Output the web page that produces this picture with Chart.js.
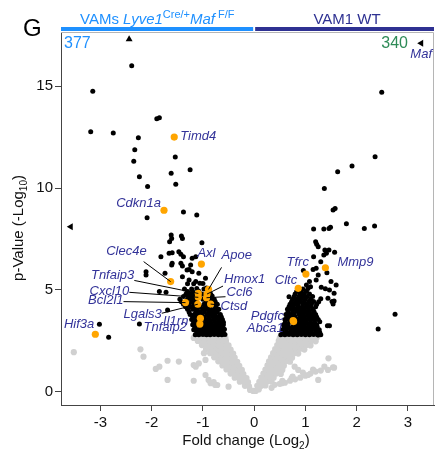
<!DOCTYPE html>
<html>
<head>
<meta charset="utf-8">
<script src="https://cdn.jsdelivr.net/npm/chart.js@4.4.1/dist/chart.umd.min.js"></script>
<style>
  body { margin: 0; background: #fff; }
  canvas { display: block; }
</style>
</head>
<body>
<canvas id="volcan" width="438" height="452"></canvas>
<script>
// datos
const xTicks = [-3, -2, -1, 0, 1, 2, 3];
const yTicks = [0, 5, 10, 15];
const leftCount = 377;
const rightCount = 340;

// no significativos (gris)
const grayPoints = [
  [-0.08, 0.1], [-0.02, 0.05], [0.03, 0.05], [0.09, 0.12],
  [-0.18, 0.3], [-0.1, 0.28], [0.06, 0.3], [0.14, 0.3], [0.22, 0.32],
  [-0.28, 0.5], [-0.2, 0.5], [-0.12, 0.48], [0.1, 0.5], [0.18, 0.5], [0.26, 0.52], [0.34, 0.5],
  [-0.38, 0.7], [-0.3, 0.7], [-0.22, 0.72], [-0.15, 0.68], [0.14, 0.7], [0.22, 0.7], [0.3, 0.72], [0.38, 0.7],
  [-0.46, 0.9], [-0.38, 0.9], [-0.3, 0.92], [-0.21, 0.88], [0.18, 0.9], [0.26, 0.9], [0.34, 0.92], [0.43, 0.9], [0.52, 0.88],
  [-0.54, 1.1], [-0.46, 1.1], [-0.38, 1.12], [-0.3, 1.1], [-0.24, 1.08], [0.22, 1.1], [0.3, 1.1], [0.38, 1.12], [0.46, 1.1], [0.55, 1.08],
  [-0.62, 1.3], [-0.54, 1.3], [-0.46, 1.32], [-0.38, 1.3], [-0.29, 1.28], [0.26, 1.3], [0.34, 1.3], [0.42, 1.32], [0.5, 1.3], [0.58, 1.28],
  [-0.7, 1.5], [-0.62, 1.5], [-0.54, 1.52], [-0.46, 1.5], [-0.38, 1.5], [-0.33, 1.48], [0.29, 1.5], [0.37, 1.5], [0.45, 1.52], [0.53, 1.5], [0.62, 1.5], [0.7, 1.48],
  [-0.78, 1.7], [-0.7, 1.7], [-0.62, 1.72], [-0.54, 1.7], [-0.46, 1.7], [-0.38, 1.68], [0.33, 1.7], [0.41, 1.7], [0.49, 1.72], [0.57, 1.7], [0.65, 1.7], [0.74, 1.68],
  [-0.86, 1.9], [-0.78, 1.9], [-0.7, 1.92], [-0.62, 1.9], [-0.54, 1.9], [-0.45, 1.9], [-0.41, 1.88], [0.37, 1.9], [0.45, 1.9], [0.53, 1.92], [0.61, 1.9], [0.69, 1.9], [0.78, 1.9], [0.86, 1.88],
  [-0.94, 2.1], [-0.86, 2.1], [-0.78, 2.12], [-0.7, 2.1], [-0.62, 2.1], [-0.54, 2.1], [-0.46, 2.08], [0.41, 2.1], [0.49, 2.1], [0.57, 2.12], [0.65, 2.1], [0.73, 2.1], [0.82, 2.1], [0.9, 2.12], [0.98, 2.08],
  [-1.02, 2.3], [-0.94, 2.3], [-0.86, 2.32], [-0.78, 2.3], [-0.7, 2.3], [-0.62, 2.3], [-0.54, 2.32], [-0.5, 2.28], [0.45, 2.3], [0.53, 2.3], [0.61, 2.32], [0.69, 2.3], [0.77, 2.3], [0.85, 2.32], [0.93, 2.3], [1.02, 2.3], [1.1, 2.28],
  [-1.1, 2.5], [-1.02, 2.5], [-0.94, 2.52], [-0.86, 2.5], [-0.78, 2.5], [-0.7, 2.5], [-0.62, 2.52], [-0.55, 2.5], [0.48, 2.5], [0.56, 2.5], [0.64, 2.52], [0.72, 2.5], [0.8, 2.5], [0.88, 2.52], [0.96, 2.5], [1.04, 2.5], [1.12, 2.52], [1.2, 2.48],
  [-1.18, 2.65], [-1.1, 2.66], [-1.02, 2.64], [-0.94, 2.66], [-0.86, 2.65], [-0.78, 2.64], [-0.7, 2.66], [-0.62, 2.65], [-0.56, 2.64], [0.5, 2.65], [0.58, 2.66], [0.66, 2.64], [0.74, 2.66], [0.82, 2.65], [0.9, 2.64], [0.98, 2.66], [1.06, 2.65], [1.14, 2.64], [1.22, 2.66],
  [-0.25, 0.6], [-0.34, 0.8], [-0.42, 1.0], [-0.5, 1.2], [-0.58, 1.4], [-0.66, 1.6], [-0.74, 1.8], [-0.82, 2.0], [-0.9, 2.2], [-0.98, 2.4],
  [0.2, 0.6], [0.3, 0.8], [0.4, 1.0], [0.46, 1.2], [0.5, 1.4], [0.55, 1.6], [0.6, 1.8], [0.7, 2.0], [0.8, 2.2], [0.9, 2.4], [1.0, 2.4],
  [0.34, 0.2], [0.4, 0.35], [0.54, 0.43], [0.5, 0.4], [0.6, 0.45], [0.7, 0.55], [0.73, 0.67], [0.8, 0.62], [0.86, 1.08], [0.9, 0.7], [0.79, 1.24],
  [1.0, 0.8], [1.05, 0.83], [1.1, 0.9], [1.2, 1.0], [1.25, 0.59], [1.3, 1.05], [0.55, 0.55], [0.75, 0.75], [0.95, 0.95], [1.15, 1.1],
  [1.37, 1.24], [1.44, 1.08], [1.54, 1.21], [1.56, 1.19], [1.45, 1.65], [1.18, 2.63],
  [-3.52, 1.95], [-2.22, 2.09], [-2.16, 1.73], [-1.69, 1.53], [-1.92, 1.13], [-1.85, 1.24], [-1.69, 0.59], [-1.47, 1.49],
  [-1.14, 1.24], [-1.18, 0.55], [-0.95, 0.83], [-0.89, 0.59], [-0.85, 0.43], [-0.79, 0.48], [-0.72, 0.34], [-0.5, 0.26],
  [-1.08, 1.4], [-1.18, 1.32], [-0.98, 1.9], [-0.95, 1.57], [-0.76, 0.34]
];

// significativos (negro)
const blackPoints = [
  [-2.39, 16.0], [-3.15, 14.75], [-1.9, 13.4], [-1.85, 13.45], [-3.19, 12.76], [-2.75, 12.7], [-2.26, 12.47],
  [-2.33, 11.88], [-1.54, 11.52], [-2.35, 11.31], [-1.25, 10.9], [-1.62, 10.72], [-2.24, 10.55], [-1.53, 10.18],
  [-2.08, 10.08], [-1.38, 8.82], [-1.12, 8.68], [-2.09, 8.54],
  [-1.62, 7.7], [-1.61, 7.53], [-1.42, 7.65], [-1.02, 7.32], [-1.65, 7.37], [-1.4, 7.53],
  [-1.66, 6.8], [-1.6, 6.83], [-1.47, 6.88], [-1.43, 6.75], [-1.38, 6.63], [-1.21, 6.55], [-1.14, 6.63], [-1.82, 6.63],
  [-1.6, 6.31], [-1.61, 6.23], [-1.43, 6.31], [-1.4, 6.18], [-1.24, 6.23], [-1.27, 6.01], [-1.21, 5.9], [-1.31, 5.98], [-1.08, 5.82],
  [-1.74, 5.82], [-2.11, 5.9], [-2.11, 5.74], [-1.4, 5.65], [-1.27, 5.49], [-1.14, 5.41], [-0.95, 5.57], [-1.06, 5.33],
  [-1.85, 4.92], [-1.72, 4.89], [-2.24, 3.33], [-3.02, 3.32], [-2.84, 2.68], [-1.69, 4.02],
  [-1.15, 2.8], [-1.08, 2.8], [-1.0, 2.82], [-0.93, 2.8], [-0.86, 2.8], [-0.78, 2.82], [-0.7, 2.8], [-0.63, 2.8], [-0.57, 2.82],
  [-1.12, 2.92], [-1.04, 2.92], [-0.96, 2.94], [-0.89, 2.92], [-0.82, 2.92], [-0.74, 2.94], [-0.66, 2.92], [-0.6, 2.92],
  [-1.18, 3.05], [-1.1, 3.05], [-1.02, 3.07], [-0.95, 3.05], [-0.88, 3.05], [-0.8, 3.07], [-0.72, 3.05], [-0.64, 3.05], [-0.58, 3.07],
  [-1.16, 3.18], [-1.06, 3.18], [-0.99, 3.2], [-0.92, 3.18], [-0.85, 3.18], [-0.77, 3.2], [-0.69, 3.18], [-0.62, 3.18],
  [-1.2, 3.3], [-1.13, 3.3], [-0.98, 3.32], [-0.9, 3.3], [-0.83, 3.3], [-0.75, 3.32], [-0.67, 3.3], [-0.6, 3.3],
  [-1.18, 3.42], [-1.11, 3.42], [-1.03, 3.44], [-0.93, 3.42], [-0.85, 3.42], [-0.77, 3.44], [-0.68, 3.42], [-0.6, 3.42],
  [-1.22, 3.55], [-1.15, 3.55], [-1.08, 3.57], [-0.95, 3.55], [-0.87, 3.55], [-0.79, 3.57], [-0.7, 3.55], [-0.62, 3.55],
  [-1.2, 3.68], [-1.13, 3.68], [-1.06, 3.7], [-0.98, 3.68], [-0.89, 3.68], [-0.81, 3.7], [-0.72, 3.68], [-0.64, 3.68],
  [-1.25, 3.8], [-1.17, 3.8], [-1.1, 3.82], [-1.02, 3.8], [-0.92, 3.8], [-0.84, 3.82], [-0.76, 3.8], [-0.66, 3.8],
  [-1.27, 3.92], [-1.14, 3.92], [-1.06, 3.94], [-0.97, 3.92], [-0.88, 3.92], [-0.8, 3.94], [-0.72, 3.92],
  [-1.3, 4.05], [-1.2, 4.05], [-1.12, 4.07], [-1.0, 4.05], [-0.93, 4.05], [-0.85, 4.07], [-0.77, 4.05], [-0.69, 4.05],
  [-1.34, 4.18], [-1.24, 4.18], [-1.15, 4.2], [-1.05, 4.18], [-0.96, 4.18], [-0.88, 4.2], [-0.75, 4.18],
  [-1.38, 4.3], [-1.27, 4.3], [-1.18, 4.32], [-0.98, 4.3], [-0.9, 4.3], [-0.8, 4.32], [-0.72, 4.3],
  [-1.42, 4.42], [-1.32, 4.42], [-1.22, 4.44], [-1.13, 4.42], [-0.94, 4.42], [-0.84, 4.44], [-0.76, 4.42],
  [-1.45, 4.55], [-1.3, 4.55], [-1.22, 4.57], [-1.14, 4.55], [-1.0, 4.55], [-0.87, 4.57], [-0.78, 4.55],
  [-1.38, 4.68], [-1.28, 4.68], [-1.2, 4.7], [-1.06, 4.68], [-0.95, 4.68], [-0.82, 4.7],
  [-1.33, 4.8], [-1.25, 4.8], [-1.17, 4.82], [-1.02, 4.8], [-0.85, 4.8],
  [-1.3, 4.92], [-1.2, 4.92], [-1.08, 4.94], [-0.9, 4.92],
  [-1.36, 5.05], [-1.22, 5.05], [-1.12, 5.07], [-0.98, 5.05], [-0.93, 5.1],
  [-1.3, 5.3], [-1.18, 5.3], [-1.0, 5.32],
  [2.49, 14.69], [2.36, 11.53], [1.91, 11.08], [1.63, 10.8], [1.37, 9.97], [1.54, 8.92], [1.58, 9.0],
  [1.8, 8.25], [2.35, 8.14], [2.15, 8.02], [1.49, 8.07], [1.36, 7.99], [1.16, 7.99], [1.46, 8.02],
  [1.2, 7.37], [1.22, 7.24], [1.25, 7.12], [1.38, 6.96], [1.46, 6.96], [1.41, 6.8], [1.57, 6.85], [1.36, 6.72],
  [1.16, 6.63], [1.3, 6.39], [1.21, 6.06], [1.15, 6.01], [0.96, 5.95],
  [1.42, 5.85], [1.25, 5.74], [1.21, 5.49], [1.08, 5.41], [1.02, 5.25], [1.1, 5.16], [1.31, 5.13], [1.39, 5.06],
  [1.47, 5.0], [1.6, 5.25], [1.5, 5.41],
  [0.68, 4.67], [1.56, 4.84], [1.44, 4.59], [1.56, 4.46], [1.54, 4.31], [1.47, 3.24], [1.25, 2.79], [1.12, 2.88],
  [2.75, 3.81], [2.42, 3.09], [1.43, 3.24], [1.52, 4.43],
  [0.52, 2.8], [0.6, 2.8], [0.68, 2.82], [0.76, 2.8], [0.84, 2.8], [0.92, 2.82], [1.0, 2.8], [1.08, 2.8], [1.16, 2.82], [1.24, 2.8], [1.3, 2.8],
  [0.56, 2.92], [0.64, 2.92], [0.72, 2.94], [0.8, 2.92], [0.88, 2.92], [0.96, 2.94], [1.04, 2.92], [1.12, 2.92], [1.2, 2.94], [1.28, 2.92],
  [0.55, 3.05], [0.63, 3.05], [0.71, 3.07], [0.79, 3.05], [0.87, 3.05], [0.95, 3.07], [1.03, 3.05], [1.11, 3.05], [1.19, 3.07], [1.27, 3.05],
  [0.59, 3.18], [0.67, 3.18], [0.75, 3.2], [0.83, 3.18], [0.91, 3.18], [0.99, 3.2], [1.07, 3.18], [1.15, 3.18], [1.23, 3.2],
  [0.57, 3.3], [0.65, 3.3], [0.82, 3.32], [0.9, 3.3], [0.98, 3.3], [1.06, 3.32], [1.14, 3.3], [1.22, 3.3],
  [0.61, 3.42], [0.7, 3.42], [0.78, 3.44], [0.86, 3.42], [0.94, 3.42], [1.02, 3.44], [1.1, 3.42], [1.18, 3.42], [1.28, 3.44],
  [0.6, 3.55], [0.68, 3.55], [0.85, 3.57], [0.93, 3.55], [1.01, 3.55], [1.09, 3.57], [1.17, 3.55], [1.25, 3.55],
  [0.64, 3.68], [0.72, 3.68], [0.8, 3.7], [0.9, 3.68], [0.98, 3.68], [1.06, 3.7], [1.14, 3.68], [1.22, 3.68],
  [0.62, 3.8], [0.7, 3.8], [0.78, 3.82], [0.88, 3.8], [0.96, 3.8], [1.04, 3.82], [1.12, 3.8], [1.2, 3.8],
  [0.66, 3.92], [0.75, 3.92], [0.84, 3.94], [0.92, 3.92], [1.0, 3.92], [1.08, 3.94], [1.17, 3.92],
  [0.65, 4.05], [0.73, 4.05], [0.81, 4.07], [0.9, 4.05], [0.98, 4.05], [1.06, 4.07], [1.15, 4.05],
  [0.68, 4.18], [0.76, 4.18], [0.85, 4.2], [0.94, 4.18], [1.02, 4.18], [1.1, 4.2], [1.2, 4.18],
  [0.7, 4.3], [0.78, 4.3], [0.86, 4.32], [0.95, 4.3], [1.03, 4.3], [1.12, 4.32], [1.22, 4.3],
  [0.73, 4.42], [0.82, 4.42], [0.9, 4.44], [0.98, 4.42], [1.07, 4.42], [1.16, 4.44], [1.26, 4.42],
  [0.75, 4.55], [0.83, 4.55], [0.92, 4.57], [1.0, 4.55], [1.1, 4.55], [1.3, 4.57],
  [0.78, 4.68], [0.87, 4.68], [0.95, 4.7], [1.04, 4.68], [1.14, 4.68],
  [0.8, 4.8], [0.9, 4.8], [0.98, 4.82], [1.08, 4.8],
  [0.83, 4.92], [0.92, 4.92], [1.02, 4.94],
  [0.85, 5.05], [0.95, 5.05], [1.05, 5.07]
];

// genes destacados (naranja)
const geneNames = ['Timd4', 'Cdkn1a', 'Clec4e', 'Axl', 'Apoe', 'Tnfaip3', 'Hmox1', 'Cxcl10', 'Ccl6', 'Bcl2l1',
  'Ctsd', 'Lgals3', 'Il1rn', 'Tnfaip2', 'Hif3a', 'Tfrc', 'Mmp9', 'Cltc', 'Pdgfc', 'Abca1'];
const geneX = [-1.56, -1.76, -1.63, -1.03, -0.89, -1.09, -0.92, -1.09, -0.93, -1.34,
  -0.85, -1.1, -1.05, -1.06, -3.1, 1.01, 1.39, 0.86, 0.76, 0.77];
const geneY = [12.5, 8.91, 5.41, 6.27, 5.03, 4.83, 4.8, 4.64, 4.62, 4.38,
  4.31, 4.3, 3.61, 3.33, 2.83, 5.78, 6.09, 5.08, 3.5, 3.45];

// fuera de escala (triangulos)
const offNames = ['', '', 'Maf'];
const offX = [-2.44, -3.58, 3.26];
const offY = [17.3, 8.1, 17.1];

// posicion de etiquetas en pixeles respecto al punto: [dx, dy, alineacion, lineaDx, lineaDy]
const etiquetas = {
  Timd4: [6, -1, 'left'], Cdkn1a: [-3, -7, 'right'],
  Clec4e: [-24, -30, 'right', -27, -20], Axl: [-4, -11, 'left'],
  Apoe: [13, -34, 'left', 13, -22], Tnfaip3: [-64, -18, 'right', -64, -13],
  Hmox1: [17, -15, 'left', 16, -8], Cxcl10: [-69, -6, 'right', -69, -5],
  Ccl6: [20, -5, 'left', 19, -1], Bcl2l1: [-62, -2, 'right', -62, -1],
  Ctsd: [10, 2, 'left', 9, 1], Lgals3: [-36, 10, 'right', -36, 9],
  Il1rn: [-12, 3, 'right'], Tnfaip2: [-13, 3, 'right'], Hif3a: [-1, -10, 'right'],
  Tfrc: [3, -12, 'right'], Mmp9: [12, -5, 'left'], Cltc: [-1, -8, 'right'],
  Pdgfc: [-9, -4, 'right'], Abca1: [-10, 7, 'right']
};

const FUENTE = '"Liberation Sans", Arial, sans-serif';
const AZUL_GEN = '#333399';

function dibujarRico(ctx, partes, x, y, align) {
  let total = 0;
  partes.forEach(p => {
    ctx.font = (p.it ? 'italic ' : '') + p.size + 'px ' + FUENTE;
    p.w = ctx.measureText(p.t).width;
    total += p.w;
  });
  let cx = align === 'center' ? x - total / 2 : (align === 'right' ? x - total : x);
  ctx.textAlign = 'left';
  ctx.textBaseline = 'alphabetic';
  partes.forEach(p => {
    ctx.font = (p.it ? 'italic ' : '') + p.size + 'px ' + FUENTE;
    ctx.fillText(p.t, cx, y + (p.dy || 0));
    cx += p.w;
  });
}

const decoracion = {
  id: 'decoracion',
  beforeDatasetsDraw(chart) {
    const { ctx, chartArea: a } = chart;
    ctx.save();
    ctx.strokeStyle = '#b5b5b5';
    ctx.lineWidth = 1;
    ctx.beginPath();
    ctx.moveTo(a.left, a.top + 0.5);
    ctx.lineTo(a.right - 0.5, a.top + 0.5);
    ctx.lineTo(a.right - 0.5, a.bottom);
    ctx.stroke();
    ctx.restore();
  },
  afterDraw(chart) {
    const { ctx, chartArea: a } = chart;
    const xs = chart.scales.x, ys = chart.scales.y;
    ctx.save();

    // barras de cabecera
    const x0 = xs.getPixelForValue(0);
    ctx.fillStyle = '#1e90ff';
    ctx.fillRect(a.left, 27, x0 - a.left - 1, 4);
    ctx.fillStyle = '#2e3192';
    ctx.fillRect(x0 + 1, 27, a.right - x0 - 1, 4);

    ctx.fillStyle = '#1e90ff';
    dibujarRico(ctx, [
      { t: 'VAMs ', size: 15 }, { t: 'Lyve1', size: 15, it: true },
      { t: 'Cre/+', size: 11, dy: -6 }, { t: 'Maf', size: 15, it: true },
      { t: ' F/F', size: 11, dy: -6 }
    ], 80, 24, 'left');
    ctx.fillStyle = '#2e3192';
    dibujarRico(ctx, [{ t: 'VAM1 WT', size: 15 }], 347, 24, 'center');

    ctx.fillStyle = '#000';
    dibujarRico(ctx, [{ t: 'G', size: 24 }], 23, 36, 'left');

    ctx.fillStyle = '#1e90ff';
    dibujarRico(ctx, [{ t: String(leftCount), size: 16 }], 64, 48, 'left');
    ctx.fillStyle = '#2e8b57';
    dibujarRico(ctx, [{ t: String(rightCount), size: 16 }], 408, 48, 'right');

    // titulos de ejes
    ctx.fillStyle = '#111';
    dibujarRico(ctx, [
      { t: 'Fold change (Log', size: 15 }, { t: '2', size: 10, dy: 4 }, { t: ')', size: 15 }
    ], 246, 445, 'center');
    ctx.save();
    ctx.translate(23, 228);
    ctx.rotate(-Math.PI / 2);
    dibujarRico(ctx, [
      { t: 'p-Value (-Log', size: 15 }, { t: '10', size: 10, dy: 4 }, { t: ')', size: 15 }
    ], 0, 0, 'center');
    ctx.restore();

    // etiquetas de genes
    ctx.font = 'italic 13px ' + FUENTE;
    ctx.textBaseline = 'middle';
    geneNames.forEach((g, i) => {
      const px = xs.getPixelForValue(geneX[i]);
      const py = ys.getPixelForValue(geneY[i]);
      const e = etiquetas[g];
      if (e.length > 3) {
        ctx.strokeStyle = '#000';
        ctx.lineWidth = 1;
        ctx.beginPath();
        ctx.moveTo(px + e[3], py + e[4]);
        ctx.lineTo(px, py);
        ctx.stroke();
      }
      ctx.fillStyle = AZUL_GEN;
      ctx.textAlign = e[2];
      ctx.fillText(g, px + e[0], py + e[1]);
    });
    offNames.forEach((g, i) => {
      if (!g) return;
      const px = xs.getPixelForValue(offX[i]);
      const py = ys.getPixelForValue(offY[i]);
      ctx.fillStyle = AZUL_GEN;
      ctx.textAlign = 'center';
      ctx.fillText(g, px, py + 11);
    });
    ctx.restore();
  }
};

const ctx = document.getElementById('volcan').getContext('2d');
new Chart(ctx, {
  type: 'scatter',
  data: {
    datasets: [
      {
        data: offX.map((v, i) => ({ x: v, y: offY[i] })),
        pointStyle: 'triangle',
        pointRotation: [0, -90, -90],
        pointRadius: 4,
        backgroundColor: '#000',
        borderColor: '#000',
        borderWidth: 0,
        clip: false,
        order: 0
      },
      {
        data: geneX.map((v, i) => ({ x: v, y: geneY[i] })),
        pointRadius: 3.6,
        backgroundColor: '#ffa500',
        borderWidth: 0,
        order: 1
      },
      {
        data: blackPoints.map(p => ({ x: p[0], y: p[1] })),
        pointRadius: 2.5,
        backgroundColor: '#000',
        borderWidth: 0,
        order: 2
      },
      {
        data: grayPoints.map(p => ({ x: p[0], y: p[1] })),
        pointRadius: 3.1,
        backgroundColor: '#d0d0d0',
        borderWidth: 0,
        order: 3
      }
    ]
  },
  options: {
    responsive: false,
    animation: false,
    devicePixelRatio: 1,
    layout: { padding: { top: 32, right: 1, left: 0, bottom: 0 } },
    plugins: { legend: { display: false }, tooltip: { enabled: false } },
    scales: {
      x: {
        type: 'linear',
        min: -3.77,
        max: 3.51,
        afterBuildTicks: s => { s.ticks = xTicks.map(v => ({ value: v })); },
        afterFit: s => { s.height = 47; },
        grid: { drawOnChartArea: false, drawTicks: true, tickLength: 6, color: '#444' },
        border: { display: true, color: '#444', width: 1 },
        ticks: { font: { family: FUENTE, size: 15 }, color: '#111', padding: 3, maxRotation: 0 }
      },
      y: {
        type: 'linear',
        min: -0.64,
        max: 17.65,
        afterBuildTicks: s => { s.ticks = yTicks.map(v => ({ value: v })); },
        afterFit: s => { s.width = 61; },
        grid: { drawOnChartArea: false, drawTicks: true, tickLength: 6, color: '#444' },
        border: { display: true, color: '#444', width: 1 },
        ticks: { font: { family: FUENTE, size: 15 }, color: '#111', padding: 2 }
      }
    }
  },
  plugins: [decoracion]
});
</script>
</body>
</html>
